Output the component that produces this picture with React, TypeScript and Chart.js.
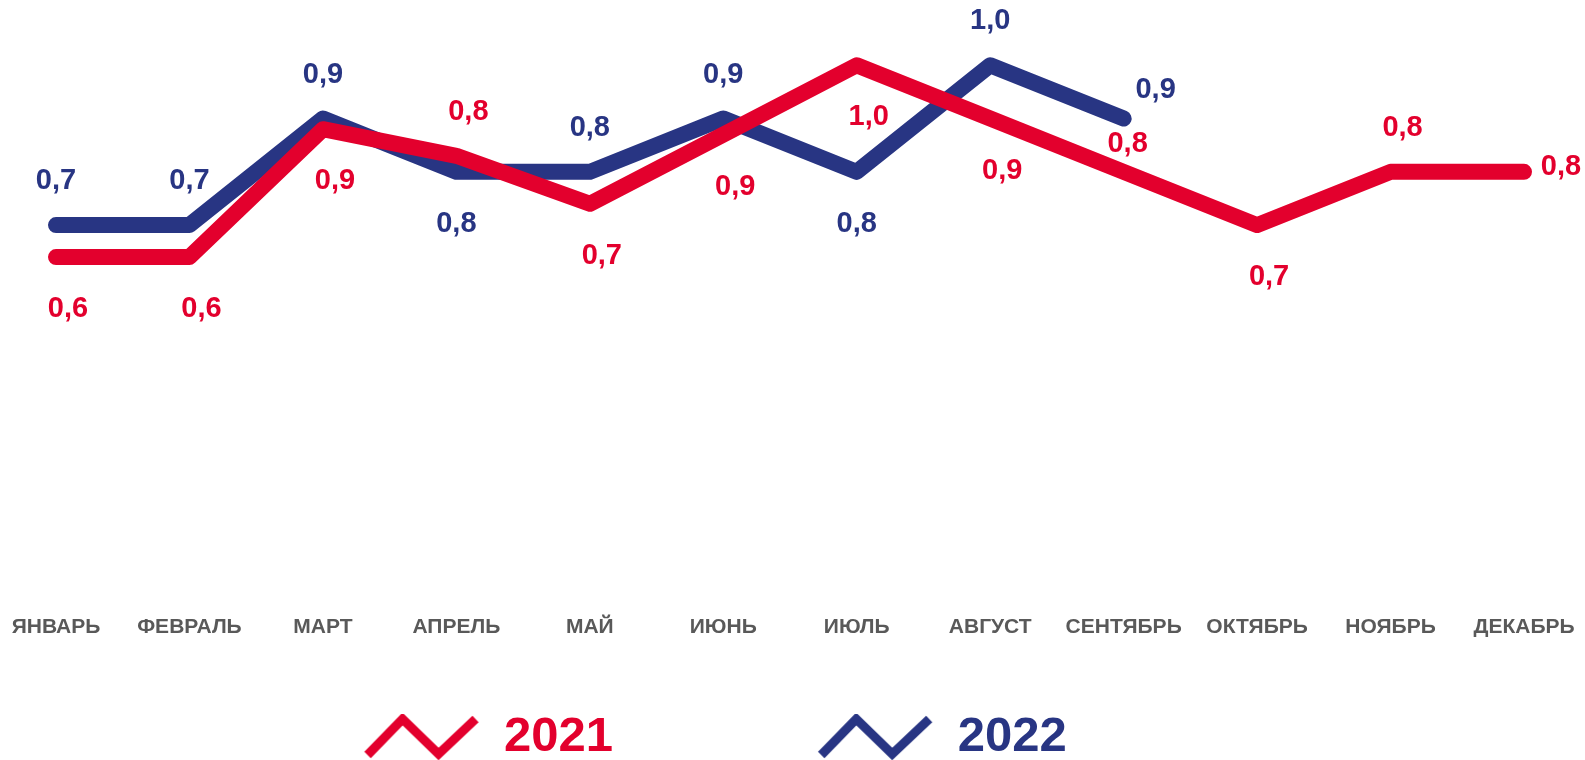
import React, { useEffect, useRef } from 'react';
import { Chart, registerables } from 'chart.js';

Chart.register(...registerables);

const months = ['ЯНВАРЬ', 'ФЕВРАЛЬ', 'МАРТ', 'АПРЕЛЬ', 'МАЙ', 'ИЮНЬ', 'ИЮЛЬ', 'АВГУСТ', 'СЕНТЯБРЬ', 'ОКТЯБРЬ', 'НОЯБРЬ', 'ДЕКАБРЬ'];
const seriesNames = ['2021', '2022'];
const values2021 = [0.64, 0.64, 0.88, 0.83, 0.74, 0.87, 1.0, 0.9, 0.8, 0.7, 0.8, 0.8];
const values2022: (number | null)[] = [0.7, 0.7, 0.9, 0.8, 0.8, 0.9, 0.8, 1.0, 0.9, null, null, null];
const labelPos2021 = ['below', 'below', 'below', 'above', 'below', 'below', 'below', 'below', 'aboveNear', 'below', 'above', 'right'];
const labelPos2022 = ['above', 'above', 'above', 'below', 'above', 'above', 'below', 'above', 'aboveRight'];

const RED = '#E3002D';
const BLUE = '#283583';
const GRAY = '#595959';
const FONT = '"Liberation Sans", Arial, sans-serif';

const OFFSETS: Record<string, [number, number]> = {
  above: [0, -44],
  below: [0, 52],
  right: [25, -5],
  aboveRight: [32, -29],
  aboveNear: [-8, -28],
};

const valueLabels = {
  id: 'valueLabels',
  afterDatasetsDraw(chart: any) {
    const ctx = chart.ctx;
    chart.data.datasets.forEach((ds: any, di: number) => {
      const meta = chart.getDatasetMeta(di);
      meta.data.forEach((pt: any, i: number) => {
        const v = ds.data[i];
        if (v == null) return;
        const [ox, oy] = OFFSETS[ds.labelPositions[i]] || [0, -44];
        ctx.save();
        ctx.font = `bold 29px ${FONT}`;
        ctx.fillStyle = ds.borderColor;
        ctx.textAlign = 'center';
        ctx.textBaseline = 'middle';
        ctx.fillText(v.toFixed(1).replace('.', ','), pt.x + ox + ds.labelDx, pt.y + oy);
        ctx.restore();
      });
    });
  },
};

function makeIcon(color: string) {
  const c = document.createElement('canvas');
  c.width = 118;
  c.height = 46;
  const g = c.getContext('2d')!;
  g.strokeStyle = color;
  g.lineWidth = 9;
  g.lineJoin = 'miter';
  g.lineCap = 'butt';
  g.beginPath();
  g.moveTo(5, 41);
  g.lineTo(40, 5);
  g.lineTo(76, 40);
  g.lineTo(113, 5);
  g.stroke();
  return c;
}

export default function App() {
  const ref = useRef<HTMLCanvasElement>(null);
  useEffect(() => {
    if (!ref.current) return;
    const colors = [RED, BLUE];
    const chart = new Chart(ref.current, {
      type: 'line',
      data: {
        labels: months,
        datasets: [
          {
            label: seriesNames[0],
            data: values2021,
            borderColor: RED,
            backgroundColor: RED,
            borderWidth: 16,
            borderCapStyle: 'round',
            borderJoinStyle: 'round',
            pointRadius: 0,
            pointHoverRadius: 0,
            pointStyle: makeIcon(RED),
            tension: 0,
            clip: false,
            labelPositions: labelPos2021,
            labelDx: 12,
          } as any,
          {
            label: seriesNames[1],
            data: values2022,
            borderColor: BLUE,
            backgroundColor: BLUE,
            borderWidth: 16,
            borderCapStyle: 'round',
            borderJoinStyle: 'round',
            pointRadius: 0,
            pointHoverRadius: 0,
            pointStyle: makeIcon(BLUE),
            tension: 0,
            clip: false,
            labelPositions: labelPos2022,
            labelDx: 0,
          } as any,
        ],
      },
      options: {
        responsive: false,
        animation: false,
        events: [],
        layout: { padding: { top: 12, left: 56, right: 61, bottom: 0 } },
        scales: {
          x: {
            type: 'category',
            offset: false,
            grid: { display: false, drawTicks: false },
            border: { display: false },
            ticks: {
              autoSkip: false,
              maxRotation: 0,
              minRotation: 0,
              padding: 16.4,
              color: GRAY,
              font: { family: FONT, size: 21, weight: 'bold', lineHeight: 1.2 },
            },
            afterFit: (scale: any) => {
              scale.paddingLeft = 0;
              scale.paddingRight = 0;
              scale.height = 114.5;
            },
          },
          y: {
            display: false,
            min: 0,
            max: 1.1,
          },
        },
        plugins: {
          tooltip: { enabled: false },
          legend: {
            position: 'bottom',
            maxHeight: 47.5,
            labels: {
              usePointStyle: true,
              pointStyleWidth: 116,
              padding: 0,
              font: { family: FONT, size: 49, weight: 'bold' },
              generateLabels: (ch: any) => {
                const items = (Chart.defaults.plugins.legend.labels as any).generateLabels(ch);
                return items.map((it: any, i: number) => ({
                  ...it,
                  text: seriesNames[i] + ' '.repeat(i === 0 ? 15 : 11),
                  fontColor: colors[i],
                }));
              },
            },
          },
        },
      } as any,
      plugins: [valueLabels],
    });
    return () => chart.destroy();
  }, []);
  return (
    <div style={{ position: 'fixed', left: 0, top: 0, width: 1585, height: 760, background: '#fff' }}>
      <canvas ref={ref} width={1585} height={760} style={{ display: 'block' }} />
    </div>
  );
}
